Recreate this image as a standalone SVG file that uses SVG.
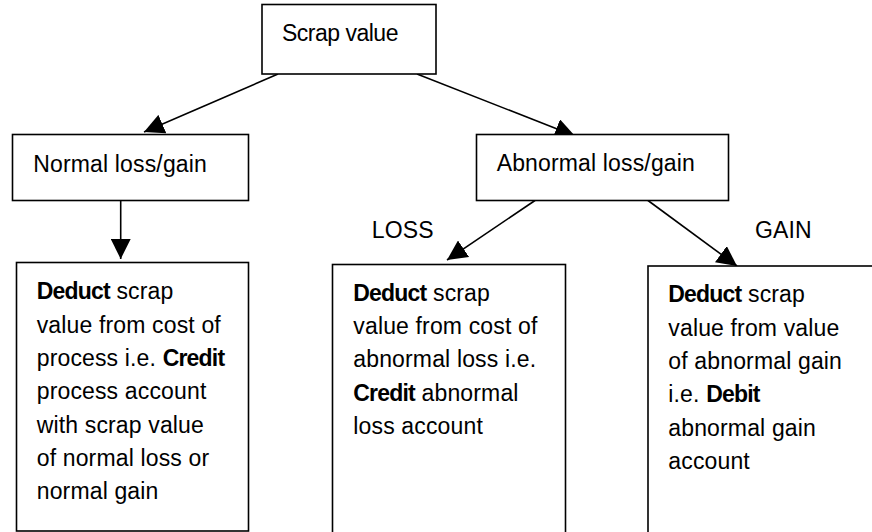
<svg xmlns="http://www.w3.org/2000/svg" width="872" height="532" viewBox="0 0 872 532">
<style>
.box{fill:#fff;stroke:#000;stroke-width:1.6}
.t{font-family:"Liberation Sans",Arial,sans-serif;font-size:23px;fill:#000;letter-spacing:0.15px}
.b{font-weight:bold;letter-spacing:-0.8px}
.conn line{stroke:#000;stroke-width:1.6;marker-end:url(#arr)}
</style>
<defs>
<marker id="arr" markerUnits="userSpaceOnUse" markerWidth="20" markerHeight="20" refX="20" refY="10" orient="auto">
<path d="M0,0 L20,10 L0,20 z" fill="#000"/>
</marker>
</defs>
<rect width="872" height="532" fill="#fff"/>
<g id="connectors" class="conn">
<line x1="278" y1="74" x2="144" y2="132"/>
<line x1="417" y1="74" x2="575" y2="136"/>
<line x1="120.7" y1="201" x2="120.7" y2="259"/>
<line x1="535" y1="200.5" x2="447" y2="260"/>
<line x1="648" y1="200.5" x2="737" y2="266"/>
</g>
<g id="scrap">
<rect class="box" x="262" y="4.5" width="174" height="69.5"/>
<text class="t" x="282" y="41" style="letter-spacing:-0.5px">Scrap value</text>
</g>
<g id="normal">
<rect class="box" x="12.5" y="134.5" width="236" height="66"/>
<text class="t" x="33.3" y="171.5">Normal loss/gain</text>
</g>
<g id="abnormal">
<rect class="box" x="476.5" y="134.5" width="252" height="66"/>
<text class="t" x="496.7" y="170.7">Abnormal loss/gain</text>
</g>
<g id="label-loss"><text class="t" x="371.7" y="238.3">LOSS</text></g>
<g id="label-gain"><text class="t" x="755" y="238.3">GAIN</text></g>
<g id="normal-treatment">
<rect class="box" x="16.5" y="262.5" width="232" height="268.5"/>
<text class="t" x="36.7" y="299.3"><tspan class="b">Deduct</tspan> scrap</text>
<text class="t" x="36.7" y="332.6">value from cost of</text>
<text class="t" x="36.7" y="365.9">process i.e. <tspan class="b">Credit</tspan></text>
<text class="t" x="36.7" y="399.2">process account</text>
<text class="t" x="36.7" y="432.5">with scrap value</text>
<text class="t" x="36.7" y="465.8">of normal loss or</text>
<text class="t" x="36.7" y="499.1">normal gain</text>
</g>
<g id="loss-treatment">
<rect class="box" x="332.5" y="264.5" width="233" height="280"/>
<text class="t" x="353.3" y="300.7"><tspan class="b">Deduct</tspan> scrap</text>
<text class="t" x="353.3" y="334">value from cost of</text>
<text class="t" x="353.3" y="367.3">abnormal loss i.e.</text>
<text class="t" x="353.3" y="400.6"><tspan class="b">Credit</tspan> abnormal</text>
<text class="t" x="353.3" y="433.9">loss account</text>
</g>
<g id="gain-treatment">
<rect class="box" x="648" y="266" width="240" height="280"/>
<text class="t" x="668.3" y="302.3"><tspan class="b">Deduct</tspan> scrap</text>
<text class="t" x="668.3" y="335.6">value from value</text>
<text class="t" x="668.3" y="368.9">of abnormal gain</text>
<text class="t" x="668.3" y="402.2">i.e. <tspan class="b">Debit</tspan></text>
<text class="t" x="668.3" y="435.5">abnormal gain</text>
<text class="t" x="668.3" y="468.8">account</text>
</g>
</svg>
